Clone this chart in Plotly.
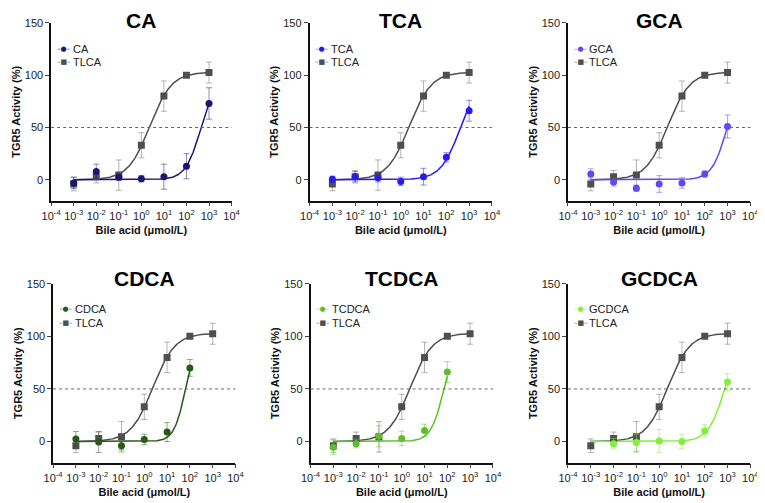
import numpy as np
import plotly.graph_objects as go

W, H = 765, 503
OFF = 8  # page body margin

# concentrations (umol/L)
conc = [1e-3, 1e-2, 1e-1, 1, 10, 100, 1000]

# TLCA reference compound, same in every panel
tlca_y = [-4, 3, 4.5, 33, 80, 100, 102.5]
tlca_err = [6.5, 6, 14.5, 12, 14.5, 1.5, 10]

ca_y = [-3, 8, 2.5, 1, 3, 13, 73]
ca_err = [5.5, 7, 3, 3, 12, 12, 15]

tca_y = [0.5, 3, 2, -1.5, 3, 21.5, 66]
tca_err = [3, 5, 4, 4, 8, 4.5, 10]

gca_y = [5.5, -2, -8, -4, -3, 5.5, 51]
gca_err = [5, 4, 3, 8, 5, 3, 11]

cdca_x = [1e-3, 1e-2, 1e-1, 1, 10, 100]
cdca_y = [2.5, -0.5, -4, 2, 9, 70]
cdca_err = [7, 10, 4, 5, 9, 8]

tcdca_x = [1e-3, 1e-2, 1e-1, 1, 10, 100]
tcdca_y = [-5.5, -2, 5, 3, 10.5, 66]
tcdca_err = [7, 4, 10, 7, 6, 10]

gcdca_x = [1e-2, 1e-1, 1, 10, 100, 1000]
gcdca_y = [-2, -1, 0.5, 0, 10, 56.5]
gcdca_err = [5, 8, 11, 7, 6, 8]

# 4-parameter logistic fit parameters: bottom, top, EC50, hill
fit_tlca = (0, 103, 2.4, 0.9)
fit_ca = (0, 100, 450, 1.25)
fit_tca = (0, 100, 420, 1.0)
fit_gca = (0, 100, 970, 1.3)
fit_cdca = (0, 100, 65, 1.7)
fit_tcdca = (0, 100, 72, 1.5)
fit_gcdca = (0, 100, 750, 1.2)

panels = [
    ("CA", conc, ca_y, ca_err, fit_ca, "#1b1577"),
    ("TCA", conc, tca_y, tca_err, fit_tca, "#2a1af2"),
    ("GCA", conc, gca_y, gca_err, fit_gca, "#6446f4"),
    ("CDCA", cdca_x, cdca_y, cdca_err, fit_cdca, "#275a17"),
    ("TCDCA", tcdca_x, tcdca_y, tcdca_err, fit_tcdca, "#5cbf2a"),
    ("GCDCA", gcdca_x, gcdca_y, gcdca_err, fit_gcdca, "#82ef3a"),
]
gray = "#4f4f4f"

# plot boxes in page pixels: (left, right, top, bottom)
boxes = [
    (42, 227, 17, 197), (307, 494, 17, 197), (572, 759, 17, 197),
    (44, 231, 281, 462), (308, 495, 281, 462), (572, 759, 281, 462),
]
title_y = [15, 15, 15, 276, 276, 276]
legend_y = [43, 43, 43, 307, 307, 307]


def px(x):
    return (x - OFF) / W


def py(y):
    return 1 - (y - OFF) / H


def logistic(x, p):
    b, t, ec, h = p
    return b + (t - b) / (1 + (ec / x) ** h)


def rgba(hexc, a):
    hexc = hexc.lstrip("#")
    r, g, b = int(hexc[0:2], 16), int(hexc[2:4], 16), int(hexc[4:6], 16)
    return f"rgba({r},{g},{b},{a})"


font = "Liberation Sans, Arial, sans-serif"
fig = go.Figure()
layout = dict(
    width=W, height=H, margin=dict(l=0, r=0, t=0, b=0),
    paper_bgcolor="white", plot_bgcolor="white",
    font=dict(family=font, size=11, color="#222"),
    annotations=[], shapes=[], showlegend=False,
)

tickx = [10.0 ** k for k in range(-4, 5)]
ticktx = [f"10<sup>{k}</sup>" for k in range(-4, 5)]

for i, (name, xs, ys, es, fit, col) in enumerate(panels):
    n = "" if i == 0 else str(i + 1)
    xa, ya = "x" + n, "y" + n
    l, r, t, b = boxes[i]

    # fitted curves
    xt = np.logspace(-3, 3, 300)
    fig.add_trace(go.Scatter(x=xt, y=logistic(xt, fit_tlca), mode="lines",
                             line=dict(color=gray, width=1.5),
                             xaxis=xa, yaxis=ya, hoverinfo="skip"))
    xc = np.logspace(-3, np.log10(max(xs)), 300)
    fig.add_trace(go.Scatter(x=xc, y=logistic(xc, fit), mode="lines",
                             line=dict(color=col, width=1.5),
                             xaxis=xa, yaxis=ya, hoverinfo="skip"))
    # points
    fig.add_trace(go.Scatter(x=conc, y=tlca_y, mode="markers", name="TLCA",
                             marker=dict(symbol="square", size=7, color=gray),
                             error_y=dict(type="data", array=tlca_err, color="rgba(120,120,120,0.55)",
                                          thickness=1, width=3),
                             xaxis=xa, yaxis=ya))
    fig.add_trace(go.Scatter(x=xs, y=ys, mode="markers", name=name,
                             marker=dict(symbol="circle", size=7, color=col),
                             error_y=dict(type="data", array=es, color=rgba(col, 0.5),
                                          thickness=1, width=3),
                             xaxis=xa, yaxis=ya))

    layout["xaxis" + n] = dict(
        domain=[px(l), px(r)], anchor=ya, type="log", range=[-4, 4],
        tickvals=tickx, ticktext=ticktx, ticks="outside", ticklen=4, tickwidth=1.2,
        showline=True, linecolor="#111", linewidth=1.5, showgrid=False, zeroline=False,
        tickfont=dict(size=11),
        title=dict(text="<b>Bile acid (μmol/L)</b>", font=dict(size=11, color="#111"), standoff=6),
    )
    layout["yaxis" + n] = dict(
        domain=[py(b), py(t)], anchor=xa, range=[-20, 150],
        tickvals=[0, 50, 100, 150], ticks="outside", ticklen=4, tickwidth=1.2,
        showline=True, linecolor="#111", linewidth=1.5, showgrid=False, zeroline=False,
        tickfont=dict(size=11),
        title=dict(text="<b>TGR5 Activity (%)</b>", font=dict(size=11, color="#111"), standoff=2),
    )
    # legend drawn as text rows
    for k, (sym, lab, c) in enumerate([("●", name, col), ("■", "TLCA", gray)]):
        yy = legend_y[i] + 14 * k
        layout["annotations"].append(dict(
            text=f"–{sym}–", xref="paper", yref="paper", x=px(l + 13), y=py(yy),
            xanchor="center", yanchor="middle", showarrow=False,
            font=dict(family="DejaVu Sans", size=7, color=c)))
        layout["annotations"].append(dict(
            text=lab, xref="paper", yref="paper", x=px(l + 20), y=py(yy),
            xanchor="left", yanchor="middle", showarrow=False,
            font=dict(size=11, color="#222")))
    layout["annotations"].append(dict(
        text=f"<b>{name}</b>", xref="paper", yref="paper",
        x=px((l + r) / 2), y=py(title_y[i]), xanchor="center", yanchor="middle",
        showarrow=False, font=dict(size=21, color="#000")))
    layout["shapes"].append(dict(
        type="line", xref=xa + " domain", yref=ya, x0=0, x1=1, y0=50, y1=50,
        line=dict(color="#666", width=1, dash="dot")))

fig.update_layout(**layout)
fig.write_html("out.html")
